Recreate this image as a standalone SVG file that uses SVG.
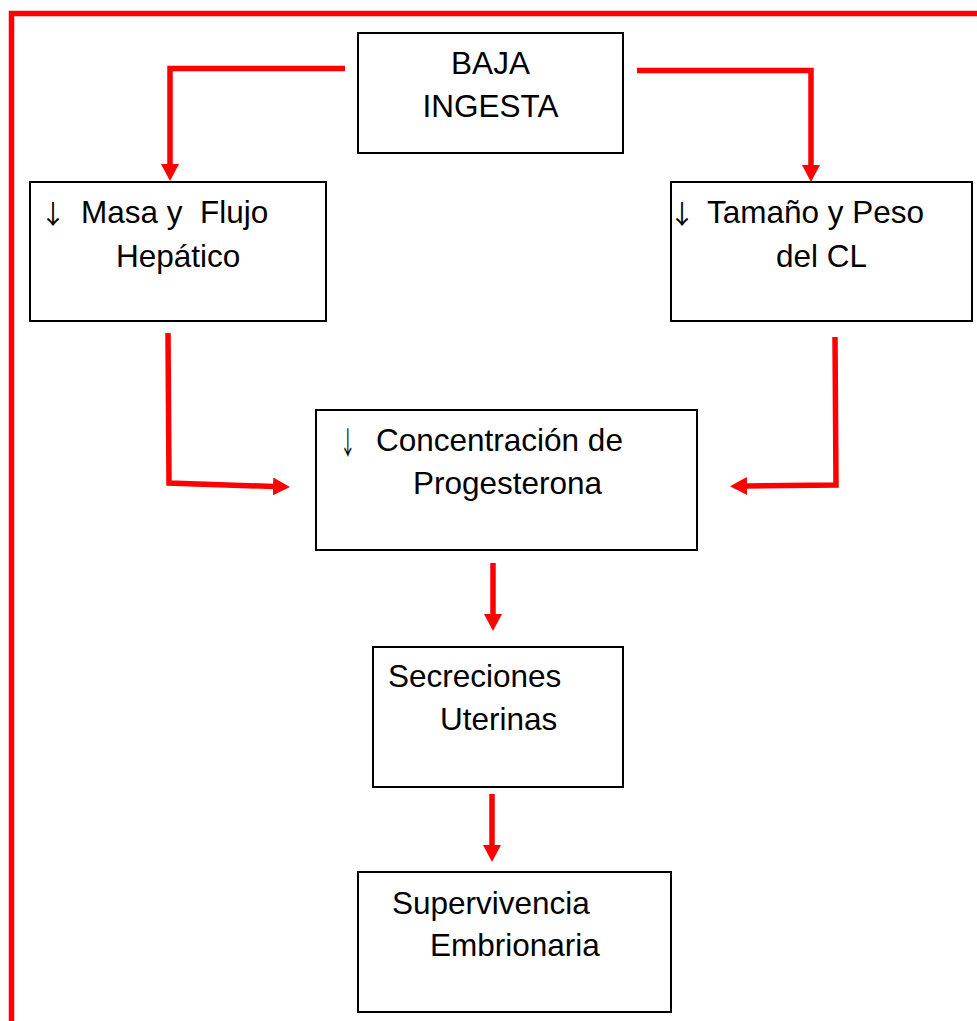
<svg xmlns="http://www.w3.org/2000/svg" width="977" height="1021" viewBox="0 0 977 1021">
<style>
.box{fill:#fff;stroke:#000;stroke-width:2}
.t{font-family:"Liberation Sans",Arial,sans-serif;font-size:31.5px;fill:#000}
.ar{font-family:"Noto Sans CJK JP","Noto Sans CJK SC",sans-serif;fill:#000;font-size:26px}
.c{fill:none;stroke:#ff0000;stroke-width:5.5;marker-end:url(#ah)}
</style>
<defs>
<marker id="ah" markerUnits="userSpaceOnUse" viewBox="0 0 17 18" refX="0" refY="9" markerWidth="17" markerHeight="18" orient="auto">
<path d="M0,0 L17,9 L0,18 Z" fill="#ff0000"/>
</marker>
</defs>
<rect width="977" height="1021" fill="#fff"/>
<path id="frame" d="M11.5,1030 V13.5 H990" fill="none" stroke="#ff0000" stroke-width="5.5"/>
<g id="connectors">
<path class="c" d="M345,68.5 H170 V164"/>
<path class="c" d="M637,70.5 H811 V165"/>
<path class="c" d="M168,333 L169,483 L273,486.5"/>
<path class="c" d="M835,337 L836,485 L747,486"/>
<path class="c" d="M493,563 V614"/>
<path class="c" d="M492,794 V845"/>
</g>
<g id="n-baja">
<rect class="box" x="358" y="33" width="265" height="120"/>
<text class="t" x="490.5" y="74" text-anchor="middle">BAJA</text>
<text class="t" x="490.5" y="117" text-anchor="middle">INGESTA</text>
</g>
<g id="n-masa">
<rect class="box" x="30" y="182" width="296" height="139"/>
<text class="ar" x="40" y="224">↓</text>
<text class="t" x="81" y="223" xml:space="preserve">Masa y  Flujo</text>
<text class="t" x="116" y="267">Hepático</text>
</g>
<g id="n-tamano">
<rect class="box" x="671" y="182" width="301" height="139"/>
<text class="ar" x="669" y="224">↓</text>
<text class="t" x="707" y="223">Tamaño y Peso</text>
<text class="t" x="776" y="267">del CL</text>
</g>
<g id="n-progesterona">
<rect class="box" x="316" y="410" width="381" height="140"/>
<text class="ar" transform="translate(340,454) scale(0.6,1.2)">↓</text>
<text class="t" x="376" y="451">Concentración de</text>
<text class="t" x="413" y="494">Progesterona</text>
</g>
<g id="n-secreciones">
<rect class="box" x="373" y="647" width="250" height="140"/>
<text class="t" x="388" y="687">Secreciones</text>
<text class="t" x="440" y="730">Uterinas</text>
</g>
<g id="n-supervivencia">
<rect class="box" x="358" y="872" width="313" height="140"/>
<text class="t" x="392" y="914">Supervivencia</text>
<text class="t" x="430" y="956">Embrionaria</text>
</g>
</svg>
